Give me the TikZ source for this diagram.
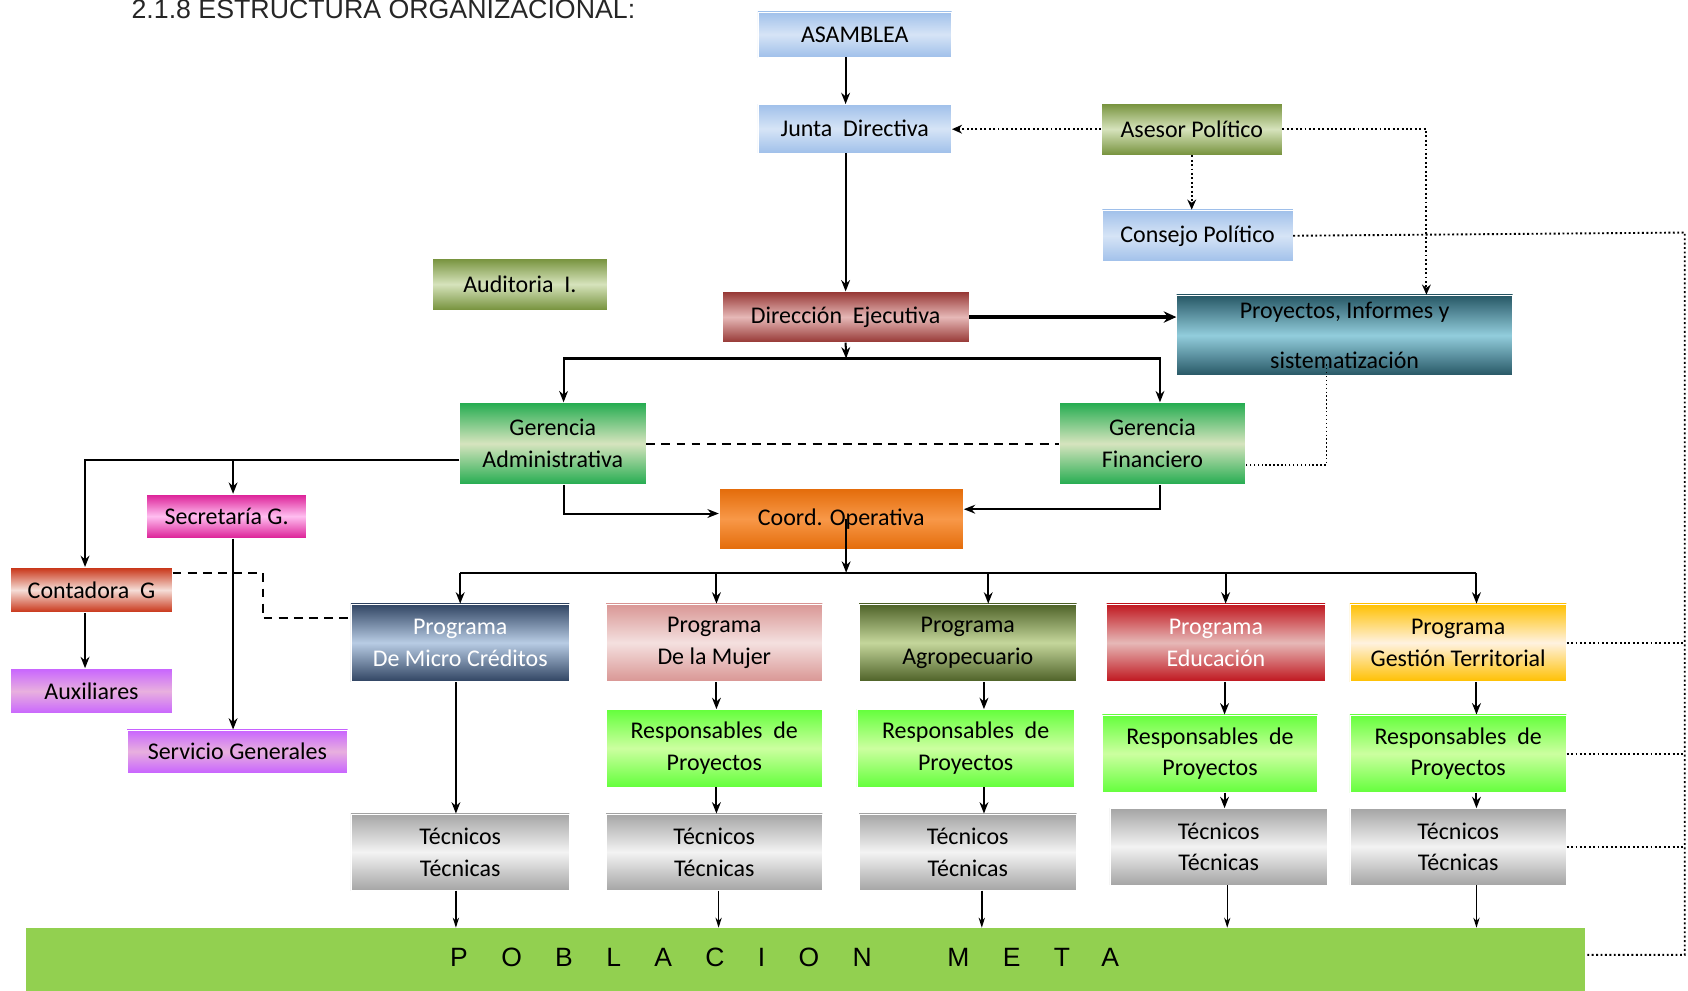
\documentclass[tikz,border=0pt]{standalone}
\usepackage{fontspec}
\setmainfont{Carlito}
\newfontfamily\titlefont{Liberation Sans}
\newfontfamily\metafont[LetterSpace=126]{Liberation Sans}
\usetikzlibrary{arrows.meta,calc}
\definecolor{ablue1}{RGB}{160,192,234}
\definecolor{ablue2}{RGB}{214,228,246}
\definecolor{olive1}{RGB}{118,146,60}
\definecolor{olive2}{RGB}{214,227,188}
\definecolor{wine1}{RGB}{150,55,52}
\definecolor{wine2}{RGB}{230,184,183}
\definecolor{teal1}{RGB}{38,86,100}
\definecolor{teal2}{RGB}{146,205,220}
\definecolor{green1}{RGB}{36,172,80}
\definecolor{green2}{RGB}{214,228,190}
\definecolor{mag1}{RGB}{220,30,150}
\definecolor{mag2}{RGB}{255,190,240}
\definecolor{orange1}{RGB}{228,108,10}
\definecolor{orange2}{RGB}{248,152,72}
\definecolor{red1}{RGB}{200,50,20}
\definecolor{red2}{RGB}{245,222,216}
\definecolor{purp1}{RGB}{200,100,255}
\definecolor{purp2}{RGB}{232,176,222}
\definecolor{slate1}{RGB}{48,68,98}
\definecolor{slate2}{RGB}{184,204,228}
\definecolor{rose1}{RGB}{217,150,148}
\definecolor{rose2}{RGB}{244,224,223}
\definecolor{agro1}{RGB}{78,98,40}
\definecolor{agro2}{RGB}{196,214,155}
\definecolor{edu1}{RGB}{192,22,30}
\definecolor{edu2}{RGB}{230,184,183}
\definecolor{gold1}{RGB}{255,192,0}
\definecolor{gold2}{RGB}{255,242,224}
\definecolor{lime1}{RGB}{100,255,60}
\definecolor{lime2}{RGB}{204,255,160}
\definecolor{gray1}{RGB}{165,165,165}
\definecolor{gray2}{RGB}{243,243,243}
\definecolor{metagreen}{RGB}{146,208,80}

\begin{document}
\begin{tikzpicture}[
  x=0.3mm, y=-0.3mm,
  box/.style={rectangle, draw=white, line width=0.5pt, inner sep=1pt, align=center, font=\fontsize{19}{25}\selectfont},
  sz/.style 2 args={minimum width=#1*0.3mm, minimum height=#2*0.3mm},
  grad/.style 2 args={top color=#1, bottom color=#1, middle color=#2},
  arrow/.style={-{Stealth[length=9pt,width=7pt]}, line width=1.6pt},
  thinarrow/.style={-{Stealth[length=8pt,width=5pt]}, line width=1.1pt},
  bigarrow/.style={-{Stealth[length=10pt,width=9pt]}, line width=2.6pt},
  dotline/.style={dotted, line width=1.5pt},
  dotarrow/.style={dotline, -{Stealth[length=8pt,width=7pt]}},
  dashline/.style={dashed, dash pattern=on 7pt off 5pt, line width=1.6pt}
]
\useasboundingbox (0,0) rectangle (1568,920);

% Title
\node[anchor=base west, inner sep=0pt, font=\titlefont\fontsize{21.2}{24}\selectfont, text=black!85] (title) at (122,17) {2.1.8 ESTRUCTURA ORGANIZACIONAL:};

% Top levels
\node[box, sz={180}{42}, grad={ablue1}{ablue2}] (asam) at (794,32) {ASAMBLEA};
\node[box, sz={180}{45}, grad={ablue1}{ablue2}] (junta) at (794,119.5) {Junta\ \ Directiva};
\node[box, sz={168}{48}, grad={olive1}{olive2}] (asesor) at (1107,120) {Asesor Político};
\node[box, sz={177}{48}, grad={ablue1}{ablue2}] (consejo) at (1112.5,219) {Consejo Político};
\node[box, sz={162}{48}, grad={olive1}{olive2}] (audit) at (483,264) {Auditoria\ \ I.};
\node[box, sz={229}{47}, grad={wine1}{wine2}] (direc) at (785.5,294.5) {Dirección\ \ Ejecutiva};
\node[box, sz={312}{75}, grad={teal1}{teal2}] (proy) at (1249,311.5) {Proyectos, Informes y\\[15pt]sistematización};

% Gerencias and admin side
\node[box, sz={173}{76}, grad={green1}{green2}] (gadm) at (513.5,412) {Gerencia\\Administrativa};
\node[box, sz={173}{76}, grad={green1}{green2}] (gfin) at (1070.5,412) {Gerencia\\Financiero};
\node[box, sz={149}{41}, grad={mag1}{mag2}] (secr) at (210.5,479.5) {Secretaría G.};
\node[box, sz={227}{56}, grad={orange1}{orange2}] (coord) at (781.5,482) {Coord. Operativa};
\node[box, sz={150}{42}, grad={red1}{red2}] (cont) at (85,548) {Contadora\ \ G};
\node[box, sz={150}{42}, grad={purp1}{purp2}] (aux) at (85,642) {Auxiliares};
\node[box, sz={205}{40}, grad={purp1}{purp2}] (serv) at (220.5,698) {Servicio Generales};

% Programas
\node[box, sz={203}{72}, grad={slate1}{slate2}, text=white] (pmicro) at (427.5,597) {Programa\\De Micro Créditos};
\node[box, sz={201}{72}, grad={rose1}{rose2}] (pmujer) at (663.5,597) {Programa\\De la Mujer};
\node[box, sz={202}{72}, grad={agro1}{agro2}] (pagro) at (899,597) {Programa\\Agropecuario};
\node[box, sz={203}{72}, grad={edu1}{edu2}, text=white] (peduc) at (1129.5,597) {Programa\\Educación};
\node[box, sz={201}{72}, grad={gold1}{gold2}] (pgest) at (1354.5,597) {Programa\\Gestión Territorial};

% Responsables
\node[box, sz={201}{72}, grad={lime1}{lime2}] (rmujer) at (663.5,695) {Responsables\ \ de\\Proyectos};
\node[box, sz={202}{72}, grad={lime1}{lime2}] (ragro) at (897,695) {Responsables\ \ de\\Proyectos};
\node[box, sz={200}{72}, grad={lime1}{lime2}] (reduc) at (1124,700) {Responsables\ \ de\\Proyectos};
\node[box, sz={201}{72}, grad={lime1}{lime2}] (rgest) at (1354.5,700) {Responsables\ \ de\\Proyectos};

% Tecnicos
\node[box, sz={203}{71}, grad={gray1}{gray2}] (tmicro) at (427.5,791.5) {Técnicos\\Técnicas};
\node[box, sz={201}{71}, grad={gray1}{gray2}] (tmujer) at (663.5,791.5) {Técnicos\\Técnicas};
\node[box, sz={202}{71}, grad={gray1}{gray2}] (tagro) at (899,791.5) {Técnicos\\Técnicas};
\node[box, sz={202}{71}, grad={gray1}{gray2}] (teduc) at (1132,786.5) {Técnicos\\Técnicas};
\node[box, sz={201}{71}, grad={gray1}{gray2}] (tgest) at (1354.5,786.5) {Técnicos\\Técnicas};

% Poblacion meta
\node[rectangle, fill=metagreen, sz={1448}{64}, inner sep=0pt] (pob) at (748,894) {};
\node[font=\metafont\fontsize{21}{24}\selectfont, anchor=base west, inner sep=0pt] (pobtxt) at (418,898) {POBLACION\hspace{60pt}META};

% Coordinates
\coordinate (dbus) at (786,333);
\coordinate (cbus) at (786,532);
\coordinate (gbus) at ($(gadm.west)+(0,15)$);
\coordinate (rail) at (1565,216);
\coordinate (railbot) at (1565,887);
\coordinate (ck) at (244,574);

% Solid links
\draw[arrow] (asam.south -| direc.north) -- (junta.north -| direc.north);
\draw[arrow] (junta.south -| direc.north) -- (direc.north);
\draw[bigarrow] (direc.east) -- (direc.east -| proy.west);
\draw[arrow] (direc.south) -- (dbus);
\draw[arrow] (dbus) -| ($(gadm.north)+(10,0)$);
\draw[arrow] (dbus) -| ($(gfin.north)+(7,0)$);
\draw[arrow] ($(gadm.south)+(10,0)$) |- ($(coord.west)+(0,-5)$);
\draw[arrow] ($(gfin.south)+(7,0)$) |- ($(coord.east)+(0,-9)$);
\draw[arrow] (cbus |- coord.center) -- (cbus);
\draw[line width=1.6pt] (pmicro.north |- cbus) -- ($(pgest.north |- cbus)+(17,0)$);
\foreach \p/\dx in {pmicro/0,pmujer/2,pagro/19,peduc/9,pgest/17}
  \draw[arrow] ($(\p.north |- cbus)+(\dx,0)$) -- ($(\p.north)+(\dx,0)$);
\draw[arrow] (gbus) -| ($(cont.north)+(-6,0)$);
\draw[arrow] ($(secr.north |- gbus)+(6,0)$) -- ($(secr.north)+(6,0)$);
\draw[arrow] ($(secr.south)+(6,0)$) -- ($(secr.south |- serv.north)+(6,0)$);
\draw[arrow] ($(cont.south)+(-6,0)$) -- ($(aux.north)+(-6,0)$);
\draw[arrow] ($(pmicro.south)+(-4,0)$) -- ($(tmicro.north)+(-4,0)$);
\foreach \c/\dx in {mujer/2,agro/15,educ/8,gest/17} {
  \draw[arrow] ($(p\c.south)+(\dx,0)$) -- ($(p\c.south |- r\c.north)+(\dx,0)$);
  \draw[arrow] ($(p\c.south |- r\c.south)+(\dx,0)$) -- ($(p\c.south |- t\c.north)+(\dx,0)$);
}
\foreach \c/\dx in {micro/-4,mujer/4,agro/13,educ/8,gest/17}
  \draw[thinarrow] ($(t\c.south)+(\dx,0)$) -- ($(t\c.south |- pob.north)+(\dx,0)$);

% Dashed and dotted links
\draw[dashline] (gadm.east) -- (gadm.east -| gfin.west);
\draw[dashline] ($(cont.east)+(0,-16)$) -| (ck) -- (ck -| pmicro.west);
\draw[dotarrow] (asesor.west) -- (asesor.west -| junta.east);
\draw[dotarrow] (asesor.south) -- (asesor.south |- consejo.north);
\draw[dotarrow] (asesor.east) -| ($(proy.north)+(76,0)$);
\draw[dotted, line width=1.1pt] ($(proy.south)+(-17,-11)$) |- ($(gfin.east)+(0,20)$);
\draw[dotline] (consejo.east) -- (rail) -- (railbot) -- (railbot -| pob.east);
\foreach \n in {pgest,rgest,tgest}
  \draw[dotline] (\n.east) -- (\n.east -| rail);

\end{tikzpicture}
\end{document}
